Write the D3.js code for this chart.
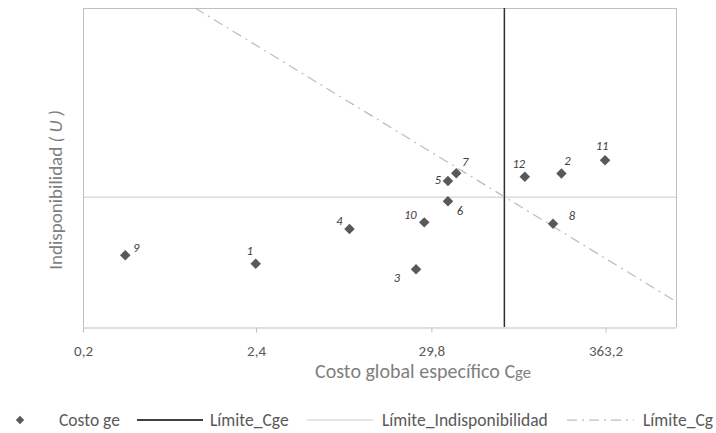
<!DOCTYPE html>
<html>
<head>
<meta charset="utf-8">
<script src="https://cdn.jsdelivr.net/npm/d3@7"></script>
<style>
  html, body { margin: 0; padding: 0; background: #fff; }
  svg { display: block; font-family: Carlito, Lato, "Liberation Sans", sans-serif; }
</style>
</head>
<body>
<svg id="chart" width="716" height="433"></svg>
<script>
// ---- data ----
const pointLabels = ["1","2","3","4","5","6","7","8","9","10","11","12"];
const costoGe     = [2.39, 193, 23.9, 9.19, 37.8, 37.8, 42.6, 171, 0.367, 26.9, 361, 114];
const indisp      = [0.198, 0.481, 0.181, 0.307, 0.458, 0.394, 0.482, 0.324, 0.225, 0.328, 0.523, 0.471];
const xTicks      = [0.2, 2.4, 29.8, 363.2];
const limiteCge   = 85;       // vertical limit (x)
const limiteIndisp = 0.407;   // horizontal limit (y)
const limiteCgX   = [1, 1000];
const limiteCgY   = [1, 0.08];
const legendNames = ["Costo ge", "Límite_Cge", "Límite_Indisponibilidad", "Límite_Cg"];
// label offsets (layout, px) for each point label
const labelDx = [-6, 6, -19, -10, -10, 12, 9, 19, 11, -14, -3, -6];
const labelDy = [-13, -13, 8, -9, -1, 9, -12, -8, -8, -8, -15, -13];

// ---- layout ----
const svg = d3.select("#chart");
const L = 83, R = 676, T = 8, B = 327;
const x = d3.scaleLog().domain([0.2, 1000]).range([L, R]);
const y = d3.scaleLinear().domain([0, 1]).range([B, T]);
const axisCol = "#bfbfbf";

// plot border (top / right)
svg.append("line").attr("x1", L).attr("x2", R).attr("y1", T + 0.5).attr("y2", T + 0.5).attr("stroke", axisCol);
svg.append("line").attr("x1", R + 0.5).attr("x2", R + 0.5).attr("y1", T).attr("y2", B).attr("stroke", axisCol);
// left axis
svg.append("line").attr("x1", L + 0.5).attr("x2", L + 0.5).attr("y1", T).attr("y2", B).attr("stroke", axisCol);

// bottom axis
const fmt = d => String(d).replace(".", ",");
const gx = svg.append("g").attr("transform", `translate(0,${B + 0.5})`)
  .call(d3.axisBottom(x).tickValues(xTicks).tickFormat(fmt).tickSize(5).tickSizeOuter(0));
gx.select(".domain").attr("stroke", axisCol);
gx.selectAll(".tick line").attr("stroke", axisCol);
gx.selectAll(".tick text").attr("fill", "#595959").attr("font-size", 15)
  .attr("y", 28.5).attr("dy", 0)
  .attr("font-family", "Carlito, Lato, sans-serif");

// limit lines
svg.append("line").attr("x1", L).attr("x2", R).attr("y1", y(limiteIndisp)).attr("y2", y(limiteIndisp))
  .attr("stroke", "#c8c8c8").attr("stroke-width", 1);
svg.append("line").attr("x1", x(limiteCge)).attr("x2", x(limiteCge)).attr("y1", T).attr("y2", B)
  .attr("stroke", "#303030").attr("stroke-width", 1.5);

const cgData = limiteCgX.map((v, i) => ({ x: v, y: limiteCgY[i] }));
svg.append("path").datum(cgData)
  .attr("d", d3.line().x(d => x(d.x)).y(d => y(d.y)))
  .attr("fill", "none").attr("stroke", "#bdbdbd").attr("stroke-width", 1.25)
  .attr("stroke-dasharray", "10,5,2,5");

// points
const pts = pointLabels.map((l, i) => ({ l, x: costoGe[i], y: indisp[i], dx: labelDx[i], dy: labelDy[i] }));
const diamond = d3.symbol().type(d3.symbolDiamond2).size(70);
svg.append("g").selectAll("path").data(pts).join("path")
  .attr("d", diamond)
  .attr("transform", d => `translate(${x(d.x)},${y(d.y)})`)
  .attr("fill", "#595959");
svg.append("g").selectAll("text").data(pts).join("text")
  .attr("x", d => x(d.x) + d.dx).attr("y", d => y(d.y) + d.dy)
  .attr("text-anchor", "middle").attr("dominant-baseline", "central")
  .attr("font-size", 12.5).attr("font-style", "italic").attr("fill", "#404040")
  .text(d => d.l);

// axis titles
const xt = svg.append("text").attr("x", 423).attr("y", 377.5).attr("text-anchor", "middle")
  .attr("font-size", 20).attr("fill", "#7f7f7f");
xt.append("tspan").text("Costo global específico C");
xt.append("tspan").attr("font-size", 16.5).attr("dy", 0.5).text("ge");

const yt = svg.append("text").attr("transform", "translate(62,190) rotate(-90)").attr("text-anchor", "middle")
  .attr("font-size", 19).attr("fill", "#7f7f7f");
yt.append("tspan").text("Indisponibilidad ");
yt.append("tspan").attr("font-style", "italic").text("( U )");

// legend
const ly = 420;
const lg = svg.append("g").attr("font-size", 17.5).attr("fill", "#595959");
lg.append("path").attr("d", d3.symbol().type(d3.symbolDiamond2).size(45)).attr("transform", `translate(20,${ly})`).attr("fill", "#595959");
lg.append("text").attr("x", 59).attr("y", ly).attr("dominant-baseline", "central").text(legendNames[0]);
lg.append("line").attr("x1", 137).attr("x2", 203).attr("y1", ly).attr("y2", ly).attr("stroke", "#000").attr("stroke-width", 1.5);
lg.append("text").attr("x", 210).attr("y", ly).attr("dominant-baseline", "central").text(legendNames[1]);
lg.append("line").attr("x1", 307).attr("x2", 373).attr("y1", ly).attr("y2", ly).attr("stroke", "#c8c8c8").attr("stroke-width", 1);
lg.append("text").attr("x", 382).attr("y", ly).attr("dominant-baseline", "central").text(legendNames[2]);
lg.append("line").attr("x1", 567).attr("x2", 634).attr("y1", ly).attr("y2", ly).attr("stroke", "#bdbdbd").attr("stroke-width", 1.25).attr("stroke-dasharray", "10,5,2,5");
lg.append("text").attr("x", 643).attr("y", ly).attr("dominant-baseline", "central").text(legendNames[3]);
</script>
</body>
</html>
